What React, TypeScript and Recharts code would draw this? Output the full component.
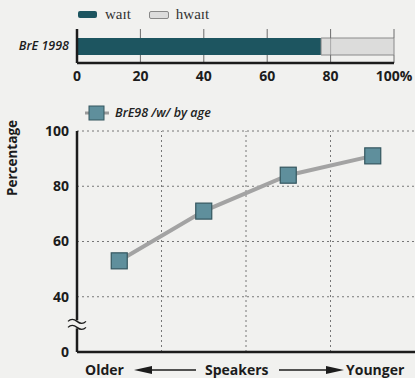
import React from 'react';
import {
  BarChart, Bar, XAxis, YAxis,
  LineChart, Line, ReferenceLine, ReferenceDot, Label,
} from 'recharts';

// top stacked bar
const barCategories = ['BrE 1998'];
const waitShare = [77];
const hwaitShare = [23];
const barTicks = [0, 20, 40, 60, 80, 100];

// lower line chart, four age bands from older to younger
const ageBands = ['Older', 'Older middle', 'Younger middle', 'Younger'];
const wByAge = [53, 71, 84, 91];
const lineTicks = [20, 40, 60, 80, 100]; // 20 is drawn as 0 (broken axis)
const gridYValues = [40, 60, 80, 100];
const gridXValues = [1, 2, 3];

const barData = barCategories.map((name, i) => ({ name, wait: waitShare[i], hwait: hwaitShare[i] }));
const lineData = ageBands.map((band, i) => ({ band, pos: i + 0.5, value: wByAge[i] }));

const FONT = '"Open Sans", "Noto Sans", sans-serif';
const INK = '#1c1c1c';
const TEAL = '#1d5560';
const BG = '#f1f1ef';
const GRID = '#6c6c6c';

const BarLegend = () => (
  <div style={{ position: 'absolute', left: 78, top: 6, display: 'flex', alignItems: 'center', fontFamily: '"Liberation Serif", serif', fontSize: 15, color: '#333' }}>
    <span style={{ width: 19, height: 7, background: TEAL, borderRadius: 2, marginRight: 8 }} />
    <span style={{ marginRight: 18 }}>waɪt</span>
    <span style={{ width: 18, height: 6, background: '#dcdcdc', border: '1px solid #888', borderRadius: 2, marginRight: 7 }} />
    <span>hwaɪt</span>
  </div>
);

const LineLegend = () => (
  <div style={{ position: 'absolute', left: 85, top: 104, display: 'flex', alignItems: 'center', fontFamily: FONT, fontSize: 12.5, fontStyle: 'italic', fontWeight: 600, color: '#222' }}>
    <svg width={24} height={16} style={{ marginRight: 6 }}>
      <line x1={0} y1={8} x2={24} y2={8} stroke="#9a9a9a" strokeWidth={3} />
      <rect x={4} y={1} width={15} height={14} fill="#5f8f9c" stroke="#34565f" strokeWidth={1} />
    </svg>
    <span>BrE98 /w/ by age</span>
  </div>
);

// vertical grid line of the bar chart: only the parts above and below the bar,
// plus a faint part where it runs behind the light hwait segment
const BarGridLine = (props: any) => {
  const { x1, y1, x2, y2, showMiddle } = props;
  if (x1 == null || y1 == null) return null;
  const top = Math.min(y1, y2);
  const bottom = Math.max(y1, y2);
  return (
    <g>
      <line x1={x1} x2={x2} y1={top} y2={top + 9} stroke={GRID} strokeWidth={1} />
      <line x1={x1} x2={x2} y1={bottom - 8} y2={bottom} stroke={GRID} strokeWidth={1} />
      {showMiddle && (
        <line x1={x1} x2={x2} y1={top + 9} y2={bottom - 8} stroke={GRID} strokeOpacity={0.45} strokeWidth={1} />
      )}
    </g>
  );
};

const SquareDot = (props: any) => {
  const { cx, cy } = props;
  if (cx == null || cy == null) return null;
  return <rect x={cx - 8} y={cy - 8} width={16} height={16} fill="#5f8f9c" stroke="#34565f" strokeWidth={1.2} />;
};

const AxisBreak = (props: any) => {
  const { cx, cy } = props;
  if (cx == null || cy == null) return null;
  return (
    <g>
      <rect x={cx - 3} y={cy - 4} width={6} height={8} fill={BG} />
      <path d={`M${cx - 9},${cy - 3} q4,-4 9,0 t9,0`} fill="none" stroke={INK} strokeWidth={1.3} />
      <path d={`M${cx - 9},${cy + 3} q4,-4 9,0 t9,0`} fill="none" stroke={INK} strokeWidth={1.3} />
    </g>
  );
};

const SpeakersLabel = (props: any) => {
  const { viewBox } = props;
  const y = viewBox.y + 23;
  const ah = y - 5;
  return (
    <g fontFamily={FONT} fontWeight={700} fontSize={14} fill={INK}>
      <text x={85} y={y}>Older</text>
      <line x1={140} y1={ah} x2={196} y2={ah} stroke={INK} strokeWidth={1.3} />
      <polygon points={`${134},${ah} ${152},${ah - 4} ${152},${ah + 4}`} fill={INK} />
      <text x={205} y={y}>Speakers</text>
      <line x1={279} y1={ah} x2={334} y2={ah} stroke={INK} strokeWidth={1.3} />
      <polygon points={`${344},${ah} ${326},${ah - 4} ${326},${ah + 4}`} fill={INK} />
      <text x={346} y={y}>Younger</text>
    </g>
  );
};

const PercentLabel = (props: any) => {
  const { viewBox } = props;
  const x = 17;
  const y = viewBox.y + 27;
  return (
    <text x={x} y={y} transform={`rotate(-90 ${x} ${y})`} textAnchor="middle" fontFamily={FONT} fontWeight={700} fontSize={13.5} fill={INK}>
      Percentage
    </text>
  );
};

export default function App() {
  const tickStyle = { fontFamily: FONT, fontWeight: 700, fontSize: 14, fill: INK };
  return (
    <div style={{ position: 'fixed', left: 0, top: 0, width: 415, height: 378, background: BG, overflow: 'hidden' }}>
      <BarChart
        width={415}
        height={90}
        data={barData}
        layout="vertical"
        margin={{ top: 29, right: 21, left: 0, bottom: 0 }}
        barSize={17}
      >
        <XAxis
          type="number"
          domain={[0, 100]}
          ticks={barTicks}
          tickFormatter={(v: number) => (v === 100 ? '100%' : String(v))}
          axisLine={{ stroke: INK, strokeWidth: 2.5 }}
          tickLine={false}
          tick={tickStyle}
          height={27}
          interval={0}
        />
        <YAxis
          type="category"
          dataKey="name"
          width={77}
          axisLine={{ stroke: INK, strokeWidth: 2.5 }}
          tickLine={false}
          tick={{ fontFamily: FONT, fontStyle: 'italic', fontWeight: 600, fontSize: 12.5, fill: INK }}
        />
        <Bar dataKey="wait" stackId="a" fill={TEAL} isAnimationActive={false} />
        <Bar dataKey="hwait" stackId="a" fill="#d4d4d4" fillOpacity={0.75} stroke="#8a8a8a" strokeWidth={1} isAnimationActive={false} />
        {barTicks.slice(1).map((v) => (
          <ReferenceLine
            key={'b' + v}
            x={v}
            stroke={GRID}
            shape={<BarGridLine showMiddle={v > waitShare[0] && v < 100} />}
          />
        ))}
      </BarChart>
      <BarLegend />

      <div style={{ position: 'absolute', left: 0, top: 95 }}>
        <LineChart width={415} height={283} data={lineData} margin={{ top: 36, right: 0, left: 0, bottom: 0 }}>
          <XAxis
            type="number"
            dataKey="pos"
            domain={[0, 4]}
            ticks={[]}
            axisLine={{ stroke: INK, strokeWidth: 2.5 }}
            tickLine={false}
            height={26}
          >
            <Label content={<SpeakersLabel />} />
          </XAxis>
          <YAxis
            type="number"
            domain={[20, 100]}
            ticks={lineTicks}
            tickFormatter={(v: number) => (v === 20 ? '0' : String(v))}
            axisLine={{ stroke: INK, strokeWidth: 2.5 }}
            tickLine={false}
            tick={tickStyle}
            width={77}
            interval={0}
          >
            <Label content={<PercentLabel />} />
          </YAxis>
          {gridYValues.map((v) => (
            <ReferenceLine key={'y' + v} y={v} stroke="#777" strokeDasharray="2 3" strokeWidth={1} />
          ))}
          {gridXValues.map((v) => (
            <ReferenceLine key={'x' + v} x={v} stroke="#777" strokeDasharray="2 3" strokeWidth={1} />
          ))}
          <ReferenceDot x={0} y={30} ifOverflow="visible" shape={<AxisBreak />} />
          <Line
            dataKey="value"
            stroke="#a3a3a3"
            strokeWidth={4}
            dot={<SquareDot />}
            activeDot={false}
            isAnimationActive={false}
          />
        </LineChart>
      </div>
      <LineLegend />
    </div>
  );
}
